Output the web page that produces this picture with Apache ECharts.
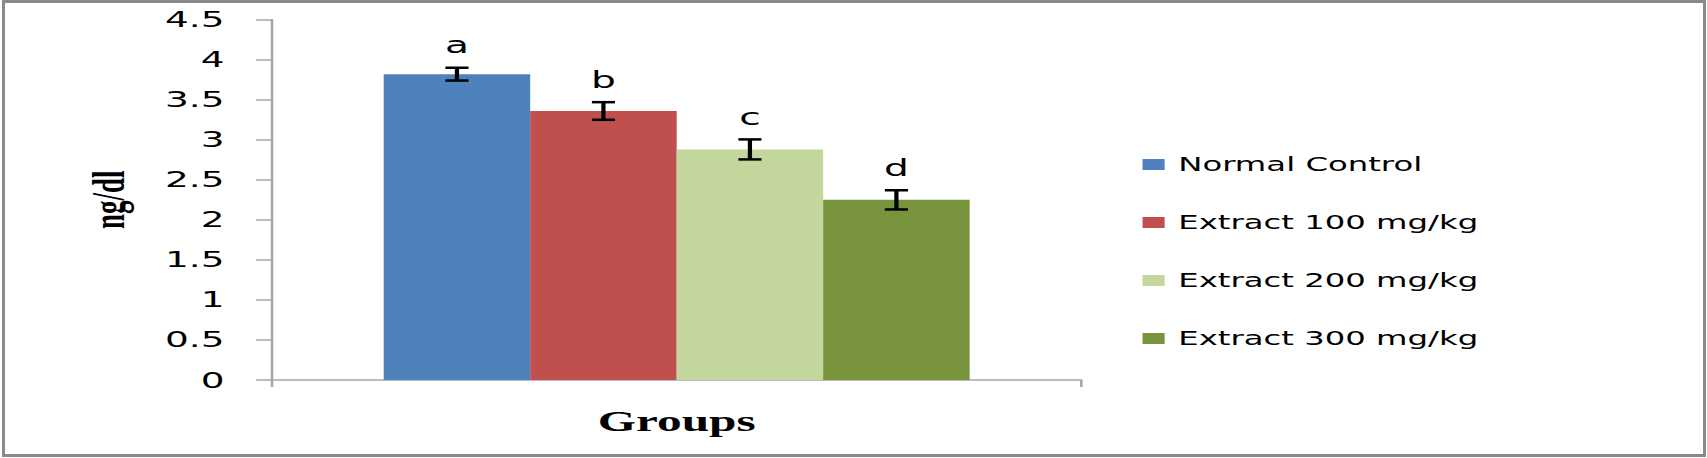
<!DOCTYPE html>
<html>
<head>
<meta charset="utf-8">
<script src="https://cdn.jsdelivr.net/npm/echarts@6/dist/echarts.min.js"></script>
<style>
  html, body { margin: 0; padding: 0; background: #ffffff; }
  #frame { position: absolute; left: 2px; top: 0px; width: 1704px; height: 457px; box-sizing: border-box; border: 3px solid #8a8a8a; }
  #chart { position: absolute; left: 0; top: 0; width: 1004px; height: 458px; transform: scaleX(1.7002); transform-origin: 0 0; }
</style>
</head>
<body>
<div id="frame"></div>
<div id="chart"></div>
<script>
// ---- data ----
const categories = ['Groups'];
const seriesNames = ['Normal Control', 'Extract 100 mg/kg', 'Extract 200 mg/kg', 'Extract 300 mg/kg'];
const values = [3.82, 3.36, 2.88, 2.25];
const errors = [0.08, 0.11, 0.125, 0.12];
const letters = ['a', 'b', 'c', 'd'];
const yTicks = [0, 0.5, 1, 1.5, 2, 2.5, 3, 3.5, 4, 4.5];
const colors = ['#4F81BD', '#C0504D', '#C3D69B', '#77933C'];

const CAT_GAP = 0.276;

const chart = echarts.init(document.getElementById('chart'), null, { renderer: 'svg', width: 1004, height: 458 });

const barSeries = seriesNames.map((name, i) => ({
  name: name,
  type: 'bar',
  barGap: 0,
  barCategoryGap: (CAT_GAP * 100) + '%',
  itemStyle: { color: colors[i] },
  data: [values[i]],
  z: 2
}));

const errSeries = {
  type: 'custom',
  name: 'err',
  z: 5,
  silent: true,
  data: values.map((v, i) => [0, v, errors[i], i]),
  encode: { x: 0, y: 1 },
  renderItem: function (params, api) {
    const v = api.value(1), e = api.value(2), i = api.value(3);
    const c = api.coord([0, v]);
    const band = api.size([1, 0])[0];
    const total = band * (1 - CAT_GAP);
    const bw = total / seriesNames.length;
    const x = c[0] - total / 2 + (i + 0.5) * bw;
    const top = api.coord([0, v + e])[1];
    const bot = api.coord([0, v - e])[1];
    const half = 6.8;
    const st = { stroke: '#000', lineWidth: 2.5 };
    return {
      type: 'group',
      children: [
        { type: 'line', shape: { x1: x, y1: top, x2: x, y2: bot }, style: st },
        { type: 'line', shape: { x1: x - half, y1: top, x2: x + half, y2: top }, style: st },
        { type: 'line', shape: { x1: x - half, y1: bot, x2: x + half, y2: bot }, style: st },
        { type: 'text', style: { text: letters[i], x: x, y: top - 11, textAlign: 'center', textVerticalAlign: 'bottom',
            fontFamily: 'DejaVu Sans', fontSize: 23, fill: '#000' } }
      ]
    };
  }
};

chart.setOption({
  animation: false,
  backgroundColor: 'transparent',
  grid: { left: 160, right: 368, top: 19.7, bottom: 78, containLabel: false },
  legend: {
    data: seriesNames,
    orient: 'vertical',
    left: 672,
    top: 155,
    padding: 0,
    itemWidth: 13,
    itemHeight: 11,
    itemGap: 39,
    icon: 'rect',
    textStyle: { fontFamily: 'DejaVu Sans', fontSize: 19, color: '#000', padding: [0, 0, 0, 3] }
  },
  xAxis: {
    type: 'category',
    data: categories,
    name: 'Groups',
    nameLocation: 'middle',
    nameGap: 27,
    nameTextStyle: { fontFamily: 'Liberation Serif', fontWeight: 'bold', fontSize: 29, color: '#000' },
    axisLine: { lineStyle: { color: '#a6a6a6', width: 1.5 } },
    axisTick: { show: true, length: 7, lineStyle: { color: '#a6a6a6', width: 1.5 } },
    axisLabel: { show: false },
    splitLine: { show: false }
  },
  yAxis: {
    type: 'value',
    min: yTicks[0],
    max: yTicks[yTicks.length - 1],
    interval: 0.5,
    name: 'ng/dl',
    nameLocation: 'middle',
    nameRotate: 90,
    nameGap: 83,
    nameTextStyle: { fontFamily: 'Liberation Serif', fontWeight: 'bold', fontSize: 27, color: '#000' },
    axisLine: { show: true, lineStyle: { color: '#a6a6a6', width: 1.5 } },
    axisTick: { show: true, inside: false, length: 9.4, lineStyle: { color: '#a6a6a6', width: 1.5 } },
    axisLabel: { margin: 28, fontFamily: 'DejaVu Sans', fontSize: 22, color: '#000' },
    splitLine: { show: false }
  },
  series: barSeries.concat([errSeries])
});
</script>
</body>
</html>
